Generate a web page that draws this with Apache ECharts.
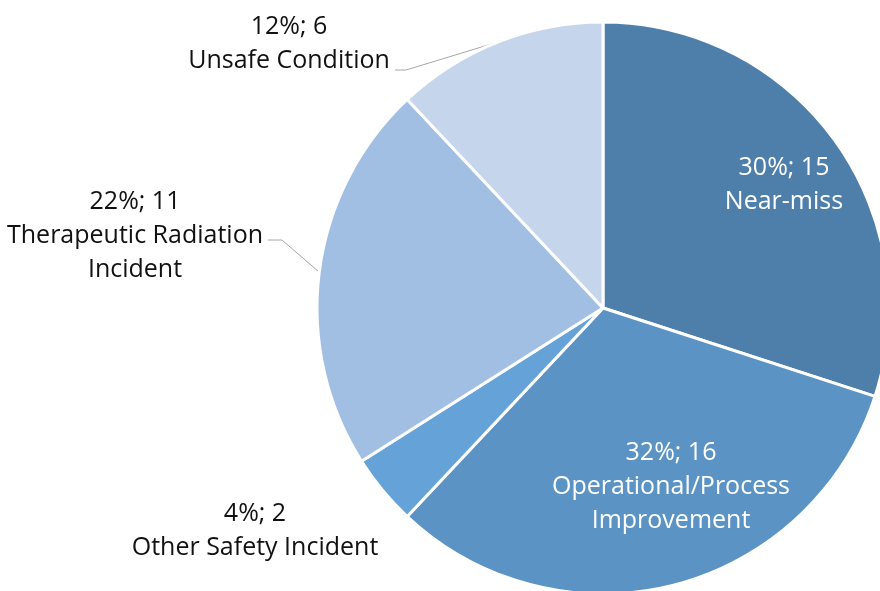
<!DOCTYPE html>
<html>
<head>
<meta charset="utf-8">
<style>
  html, body { margin: 0; padding: 0; background: #fff; }
  #chart { width: 880px; height: 591px; }
</style>
<script src="https://cdn.jsdelivr.net/npm/echarts@6/dist/echarts.min.js"></script>
</head>
<body>
<div id="chart"></div>
<script>
const categories = [
  'Near-miss',
  'Operational/Process\nImprovement',
  'Other Safety Incident',
  'Therapeutic Radiation\nIncident',
  'Unsafe Condition'
];
const counts = [15, 16, 2, 11, 6];
const sliceColors = ['#4e7fab', '#5b93c4', '#64a2d8', '#a1bfe3', '#c5d6ec'];

// label placement (text block centre) and leader line bends, per slice
const labelSpots = [
  { x: 784, y: 185, inside: true },
  { x: 671, y: 487, inside: true },
  { x: 255, y: 531, line: null },
  { x: 135, y: 236, line: [[282, 240], [268, 240]] },
  { x: 289, y: 44, line: [[406, 70], [395, 70]] }
];

const chart = echarts.init(document.getElementById('chart'));

const option = {
  animation: false,
  series: [
    {
      type: 'pie',
      center: [603, 308],
      radius: 286,
      startAngle: 90,
      clockwise: true,
      percentPrecision: 0,
      avoidLabelOverlap: false,
      itemStyle: {
        borderColor: '#ffffff',
        borderWidth: 3
      },
      label: {
        show: true,
        position: 'outside',
        formatter: '{d}%; {c}\n{b}',
        fontFamily: 'Open Sans',
        fontSize: 25,
        lineHeight: 34,
        color: '#111111',
        align: 'center'
      },
      labelLine: {
        show: true,
        length: 10,
        length2: 10,
        lineStyle: { color: '#a6a6a6', width: 1 }
      },
      labelLayout: function (params) {
        const spot = labelSpots[params.dataIndex];
        const out = {
          x: spot.x,
          y: spot.y,
          align: 'center',
          verticalAlign: 'middle'
        };
        if (spot.line && params.labelLinePoints) {
          out.labelLinePoints = [params.labelLinePoints[0]].concat(spot.line);
        } else {
          out.labelLinePoints = [];
        }
        return out;
      },
      data: categories.map(function (name, i) {
        const spot = labelSpots[i];
        const item = {
          name: name,
          value: counts[i],
          itemStyle: { color: sliceColors[i] }
        };
        if (spot.inside) {
          item.label = { color: '#ffffff' };
          item.labelLine = { show: false };
        } else if (!spot.line) {
          item.labelLine = { show: false };
        }
        return item;
      })
    }
  ]
};

chart.setOption(option);
window.onresize = () => {
  chart.resize();
};
</script>
</body>
</html>
